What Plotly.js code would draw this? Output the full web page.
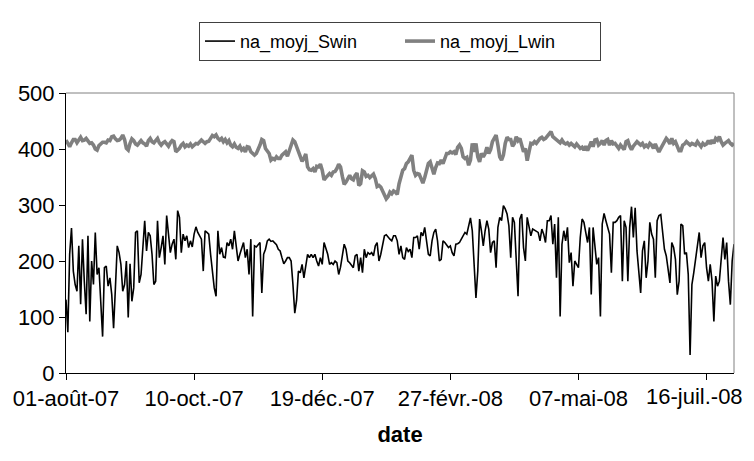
<!DOCTYPE html>
<html>
<head>
<meta charset="utf-8">
<script src="https://cdn.plot.ly/plotly-3.0.1.min.js"></script>
<style>html,body{margin:0;padding:0;background:#fff;}#chart{width:754px;height:461px;}</style>
</head>
<body>
<div id="chart"></div>
<script>
// Daily series, 01-Aug-2007 .. 31-Jul-2008
var startDate = "2007-08-01";
var seriesNames = ["na_moyj_Swin", "na_moyj_Lwin"];
var tickDates = ["2007-08-01", "2007-10-10", "2007-12-19", "2008-02-27", "2008-05-07", "2008-07-16"];
var tickLabels = ["01-août-07", "10-oct.-07", "19-déc.-07", "27-févr.-08", "07-mai-08", "16-juil.-08"];
var yTicks = [0, 100, 200, 300, 400, 500];

var swin = [
131,73,212,259,182,158,146,227,123,239,
164,105,245,92,200,158,251,176,188,125,
65,188,191,155,170,140,80,152,227,215,
194,146,158,200,99,195,128,152,251,254,
161,176,236,272,218,251,245,212,158,164,
272,206,224,245,194,281,248,215,230,239,
203,290,278,215,248,236,245,224,236,225,
248,261,251,245,239,182,254,251,248,212,
182,152,137,254,212,224,207,206,233,227,
239,221,254,230,200,212,224,233,206,221,
176,239,101,227,225,230,233,143,212,221,
236,239,235,236,233,229,221,218,206,195,
200,206,206,200,158,107,130,182,179,194,
170,188,212,206,212,206,212,200,191,206,
194,233,224,212,194,197,194,200,197,176,
189,212,230,221,200,197,193,188,209,212,
182,206,179,221,206,215,212,215,209,227,
233,200,212,230,245,247,242,239,236,245,
245,236,212,227,206,203,224,217,221,206,
242,242,245,221,251,245,260,236,212,209,
236,251,257,236,200,203,236,233,229,224,
227,215,209,230,231,233,239,245,251,248,
266,277,254,200,134,182,275,254,227,254,
272,257,215,233,236,188,260,278,272,299,
293,284,263,206,278,269,212,137,275,284,
224,200,278,260,245,257,255,254,251,236,
257,248,233,272,272,281,230,266,170,278,
101,230,254,236,260,197,215,155,200,194,
188,242,275,269,248,233,260,140,260,227,
194,206,101,266,285,272,260,248,179,269,
269,272,278,281,164,272,260,164,260,297,
242,295,218,173,143,218,236,170,200,269,
248,239,170,272,281,283,248,221,209,182,
161,233,224,203,140,164,266,263,212,215,
176,32,158,179,203,218,251,206,227,233,
188,164,194,164,92,173,155,164,200,242,
203,233,164,122,200,230
];

var lwin = [
416,409,404,411,417,417,411,416,421,415,
416,419,414,410,411,407,400,398,406,410,
412,412,411,416,415,422,423,418,415,416,
419,425,417,401,398,410,418,415,409,407,
411,415,411,409,405,415,419,413,411,415,
419,411,407,411,413,409,405,411,415,413,
395,398,401,407,410,404,407,405,409,404,
407,410,409,413,416,413,410,413,414,419,
424,422,425,419,416,419,413,417,411,415,
407,404,409,403,401,405,398,401,395,404,
403,395,392,389,392,399,407,417,415,401,
395,392,380,383,381,386,383,383,389,392,
395,387,398,407,416,413,405,397,386,378,
383,391,368,363,362,365,359,369,368,373,
362,345,349,353,356,353,359,360,365,373,
368,351,337,341,347,353,347,345,353,357,
335,338,361,359,351,353,349,353,355,347,
333,335,332,325,317,311,315,323,320,325,
323,319,338,351,362,365,374,377,385,389,
362,353,356,355,347,339,349,362,374,377,
368,355,367,375,374,380,374,386,392,392,
395,393,395,390,403,407,401,386,383,385,
371,380,410,395,410,386,377,392,386,392,
403,392,399,413,419,425,407,386,380,389,
410,421,417,417,405,410,422,415,419,405,
395,401,379,395,410,409,413,410,416,419,
421,417,419,423,428,431,422,419,415,413,
411,416,411,409,411,407,410,407,404,409,
405,401,403,398,405,397,405,413,404,416,
417,407,410,415,407,415,417,407,415,409,
410,404,401,407,403,399,413,415,405,399,
405,409,413,410,407,410,404,407,404,410,
407,401,409,401,395,401,407,415,419,415,
409,419,410,413,403,397,397,407,409,413,
410,407,410,409,407,413,407,404,410,407,
409,415,409,416,410,419,416,422,413,407,
410,413,415,410,407,410
];

function buildDates(start, n) {
  var out = [];
  var d0 = new Date(start + "T00:00:00Z");
  for (var i = 0; i < n; i++) {
    var d = new Date(d0.getTime() + i * 86400000);
    out.push(d.toISOString().slice(0, 10));
  }
  return out;
}
var dates = buildDates(startDate, swin.length);

var FONT = "'Liberation Sans', Arial, sans-serif";

var traces = [
  {x: dates, y: swin, name: seriesNames[0], type: "scatter", mode: "lines",
   line: {color: "#000000", width: 1.6}},
  {x: dates, y: lwin, name: seriesNames[1], type: "scatter", mode: "lines",
   line: {color: "#808080", width: 3.6}}
];

// All but the last date label drawn as axis tick labels; the last is
// right-aligned (as in the original) so it stays inside the figure.
var nTicks = tickDates.length;
var axisText = tickLabels.slice(0, nTicks - 1).concat([""]);
var annotations = [{
  x: tickDates[nTicks - 1], xref: "x", y: 0, yref: "paper",
  text: tickLabels[nTicks - 1], showarrow: false,
  xanchor: "center", yanchor: "top", xshift: -12, yshift: -9,
  font: {family: FONT, size: 22, color: "#000"}
}];

var layout = {
  width: 754, height: 461,
  margin: {l: 66, r: 20, t: 93, b: 88},
  paper_bgcolor: "#ffffff", plot_bgcolor: "#ffffff",
  font: {family: FONT, size: 22, color: "#000000"},
  showlegend: true,
  legend: {orientation: "h", x: 0.5, xanchor: "center", y: 1.254, yanchor: "top",
           bordercolor: "#404040", borderwidth: 1, font: {family: FONT, size: 18},
           entrywidth: 155, entrywidthmode: "pixels", itemwidth: 30, tracegroupgap: 0},
  xaxis: {type: "date", range: [dates[0], dates[dates.length - 1]],
          tickvals: tickDates, ticktext: axisText, ticks: "outside", ticklen: 6,
          tickcolor: "#000", showline: true, linecolor: "#000", linewidth: 1,
          showgrid: false, zeroline: false, tickfont: {family: FONT, size: 22},
          title: {text: "<b>date</b>", font: {family: FONT, size: 22}, standoff: 16}},
  yaxis: {range: [0, 500], tickvals: yTicks, ticks: "outside", ticklen: 6,
          tickcolor: "#000", showline: true, linecolor: "#000", linewidth: 1,
          showgrid: false, zeroline: false, tickfont: {family: FONT, size: 22}},
  annotations: annotations,
  shapes: [
    {type: "line", xref: "paper", yref: "paper", x0: 0, x1: 1, y0: 1, y1: 1,
     line: {color: "#808080", width: 1}},
    {type: "line", xref: "paper", yref: "paper", x0: 1, x1: 1, y0: 0, y1: 1,
     line: {color: "#808080", width: 1}}
  ]
};

Plotly.newPlot("chart", traces, layout, {displayModeBar: false, staticPlot: true});
</script>
</body>
</html>
